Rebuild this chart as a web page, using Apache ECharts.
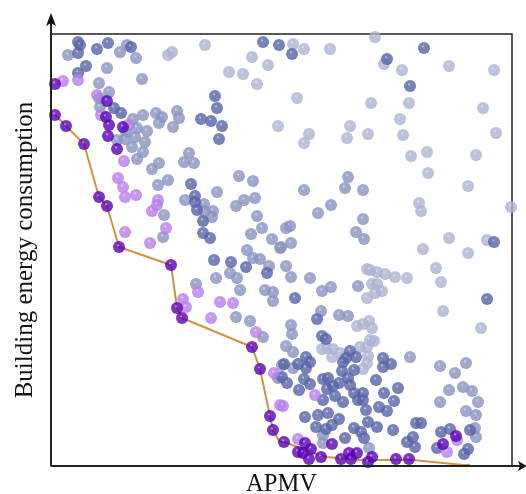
<!DOCTYPE html>
<html><head><meta charset="utf-8">
<style>html,body{margin:0;padding:0;background:#fff}#c{width:526px;height:494px}</style>
<script src="https://cdn.jsdelivr.net/npm/echarts@6/dist/echarts.min.js"></script>
</head><body><div id="c"></div>
<script>
// Points as [horizontal, vertical] image readings; toData turns them into axis values.
const darkBlue=[[78,42],[80,45],[78,53],[97,49],[108,43],[131,47],[86,66],[78,73],[114,108],[121,113],[215,96],[217,108],[201,119],[211,121],[222,126],[219,139],[191,184],[195,196],[195,202],[197,210],[203,221],[203,233],[210,238],[263,42],[279,45],[292,54],[387,59],[424,48],[410,86],[494,242],[214,260],[231,262],[246,267],[267,273],[295,298],[487,299],[317,319],[322,336],[326,339],[350,351],[356,357],[346,358],[343,362],[342,371],[354,370],[383,358],[391,364],[383,367],[306,357],[310,362],[306,368],[298,364],[284,364],[282,377],[287,383],[304,379],[310,384],[299,390],[323,379],[328,378],[348,378],[339,383],[333,386],[327,389],[350,385],[376,380],[398,388],[384,393],[394,401],[363,393],[354,393],[335,396],[323,400],[343,402],[358,400],[363,400],[366,410],[379,407],[387,411],[305,417],[318,415],[328,413],[339,419],[316,427],[332,425],[326,429],[368,422],[377,427],[393,430],[354,428],[361,432],[364,438],[345,438],[416,423],[421,423],[413,437],[407,442],[415,447],[441,432],[450,429],[470,430],[437,448],[468,449],[464,454]];
const midBlue=[[68,55],[120,52],[127,45],[136,58],[107,68],[142,79],[99,83],[109,92],[99,98],[100,107],[143,115],[133,119],[156,113],[162,117],[159,123],[177,111],[179,118],[173,127],[126,132],[137,128],[147,131],[117,140],[125,139],[135,137],[145,142],[132,147],[143,152],[137,159],[189,153],[184,162],[194,163],[159,163],[152,169],[158,185],[168,180],[239,176],[253,181],[217,192],[185,200],[204,204],[213,211],[204,211],[212,217],[164,215],[236,206],[244,200],[255,198],[257,216],[262,228],[251,234],[272,239],[163,237],[247,250],[348,177],[345,188],[363,190],[304,190],[331,205],[318,213],[363,219],[356,232],[364,239],[286,228],[290,226],[291,243],[281,247],[196,284],[216,278],[230,273],[237,278],[240,290],[253,258],[260,259],[269,266],[265,290],[273,292],[273,301],[236,317],[250,321],[263,337],[280,248],[278,378],[282,365],[323,435],[323,443],[369,448],[293,368],[410,357],[321,311],[291,325],[292,334],[286,346],[293,352],[339,315],[348,316],[286,266],[291,277],[310,278],[322,291],[331,287],[358,286],[440,366],[466,363],[455,373],[463,387],[449,390],[472,391],[478,402],[440,402],[466,411],[476,415],[475,428],[476,437]];
const lightBlue=[[168,55],[172,52],[205,45],[229,72],[243,74],[252,57],[268,65],[257,84],[278,126],[293,44],[304,49],[330,49],[375,37],[384,64],[402,70],[449,66],[494,70],[297,98],[371,103],[409,103],[483,108],[400,119],[403,135],[350,126],[368,134],[347,138],[309,134],[304,143],[496,133],[411,156],[427,152],[476,155],[428,173],[468,186],[419,203],[421,211],[511,207],[449,238],[487,240],[423,249],[468,253],[436,268],[441,282],[443,311],[481,328],[395,277],[385,274],[377,272],[367,269],[370,270],[322,349],[327,348],[333,349],[332,357],[340,353],[357,326],[363,324],[369,321],[372,328],[374,341],[370,340],[360,347],[367,347],[368,356],[367,363],[363,369],[372,284],[377,284],[382,291],[375,293],[367,298],[407,278]];
const lightPurple=[[63,81],[78,80],[97,95],[101,115],[128,125],[124,161],[118,178],[123,187],[125,197],[136,195],[158,200],[157,205],[152,211],[166,228],[125,232],[150,243],[198,292],[183,299],[186,307],[220,302],[233,303],[211,318],[256,332],[274,373],[280,405],[315,395],[283,406],[298,439],[457,440],[447,452]];
const darkPurple=[[55,84],[107,101],[106,117],[109,125],[123,127],[108,136],[117,149],[55,115],[66,126],[84,144],[99,197],[107,206],[119,247],[171,265],[177,308],[182,318],[252,347],[260,369],[270,416],[273,430],[284,442],[305,443],[311,449],[298,452],[303,453],[309,459],[321,457],[332,444],[341,459],[349,453],[357,453],[351,459],[372,457],[368,462],[396,459],[409,459],[443,444],[456,436]];
const frontier=[[55,115],[66,126],[84,144],[99,197],[107,206],[119,247],[171,265],[177,308],[182,318],[252,347],[260,369],[270,416],[273,430],[279,441],[287,443],[313,453],[327,457],[360,460],[413,460],[463,465],[470,465]];
const xName='APMV', yName='Building energy consumption';

const toData=p=>[p[0]-51,466-p[1]];
const ball=(hi,mid,edge)=>({type:'radial',x:0.42,y:0.36,r:0.68,colorStops:[{offset:0,color:hi},{offset:0.2,color:mid},{offset:0.78,color:mid},{offset:1,color:edge}]});
const scatter=(arr,hi,mid,edge,z)=>({type:'scatter',data:arr.map(toData),symbolSize:12,z,clip:false,itemStyle:{color:ball(hi,mid,edge)},silent:true,animation:false});
const chart=echarts.init(document.getElementById('c'),null,{renderer:'canvas'});
const ink='#222';
chart.setOption({
 animation:false,backgroundColor:'#fff',
 grid:{left:51,right:14,top:34,bottom:28,show:true,borderColor:ink,borderWidth:1.5,outerBoundsMode:'none',containLabel:false},
 xAxis:{type:'value',min:0,max:461,axisLine:{show:false},axisTick:{show:false},axisLabel:{show:false},splitLine:{show:false},
  name:xName,nameLocation:'middle',nameGap:5,nameTextStyle:{fontFamily:'Liberation Serif',fontSize:24.5,color:'#111',verticalAlign:'top',lineHeight:28}},
 yAxis:{type:'value',min:0,max:432,axisLine:{show:false},axisTick:{show:false},axisLabel:{show:false},splitLine:{show:false},
  name:yName,nameLocation:'middle',nameGap:13,nameTextStyle:{fontFamily:'Liberation Serif',fontSize:25,color:'#111'}},
 graphic:[
  {type:'line',shape:{x1:51,y1:466,x2:51,y2:20},style:{stroke:ink,lineWidth:2},z:20},
  {type:'line',shape:{x1:51,y1:466,x2:520,y2:466},style:{stroke:ink,lineWidth:2},z:20},
  {type:'polygon',shape:{points:[[51,13],[46,26],[51,23],[56,26]]},style:{fill:'#111'},z:20},
  {type:'polygon',shape:{points:[[527,466],[518,461],[520,466],[518,471]]},style:{fill:'#111'},z:20}
 ],
 series:[
  scatter(lightBlue,'#dfe1ee','#adb3d2','#969dc2',2),
  scatter(midBlue,'#ccd1e6','#8893c0','#6f7bad',3),
  scatter(darkBlue,'#bfc6e6','#5663a8','#3f4c8e',4),
  scatter(lightPurple,'#e6d2fa','#b67eee','#9e62e0',5),
  {type:'line',data:frontier.map(toData),showSymbol:false,symbol:'none',z:6,clip:false,lineStyle:{color:'#d0943c',width:2},silent:true,animation:false},
  scatter(darkPurple,'#d9a6f4','#5a00b4','#3f0088',7)
 ]
});
</script></body></html>
